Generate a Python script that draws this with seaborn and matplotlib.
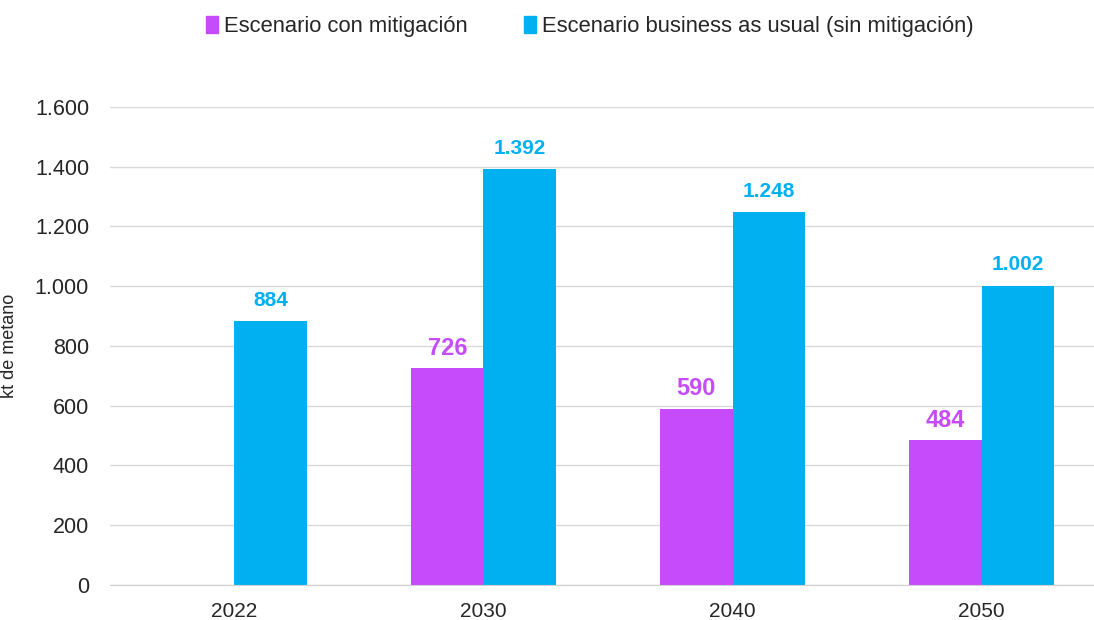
import numpy as np
import pandas as pd
import seaborn as sns
import matplotlib.pyplot as plt
from matplotlib.ticker import FuncFormatter

years = ["2022", "2030", "2040", "2050"]
mitigacion = [np.nan, 726, 590, 484]
bau = [884, 1392, 1248, 1002]
series = ["Escenario con mitigación", "Escenario business as usual (sin mitigación)"]
colors = ["#C64BFA", "#00B0F0"]

df = pd.DataFrame({
    "year": years * 2,
    "value": mitigacion + bau,
    "serie": [series[0]] * 4 + [series[1]] * 4,
})

sns.set_style("white")
plt.rcParams["font.family"] = ["Liberation Sans", "DejaVu Sans"]

def miles(v, pos=None):
    return f"{int(round(v)):,}".replace(",", ".")

fig = plt.figure(figsize=(10.94, 6.2), dpi=100)
# the plot area runs a little past the right edge, as in the cropped original
ax = fig.add_axes([0.1005, 0.0565, 0.9105, 0.771])
sns.barplot(data=df, x="year", y="value", hue="serie", order=years, hue_order=series,
            palette=colors, width=0.58, saturation=1, linewidth=0, ax=ax, legend=False)

ax.set_ylim(0, 1600)
ax.set_xlim(-0.5, 3.5)
ax.set_yticks(range(0, 1601, 200))
ax.yaxis.set_major_formatter(FuncFormatter(miles))
ax.grid(axis="y", color="#d9d9d9", linewidth=1)
ax.set_axisbelow(True)
for s in ["top", "right", "left"]:
    ax.spines[s].set_visible(False)
ax.spines["bottom"].set_color("#d0d0d0")
ax.set_xticks([-0.5, 0.5, 1.5, 2.5, 3.5], minor=True)
ax.set_xticks(range(4))
ax.set_xticklabels(years)
ax.tick_params(axis="x", which="major", length=0, labelsize=15, pad=12)
ax.tick_params(axis="x", which="minor", length=6, color="#d0d0d0", direction="out")
ax.tick_params(axis="y", length=0, labelsize=15.5, pad=15)
ax.set_xlabel("")
ax.set_ylabel("kt de metano", fontsize=13)
ax.yaxis.set_label_coords(-0.092, 0.5)

sizes = [17, 15]
pads = [6, 8]
for cont, col, fs, pd_ in zip(ax.containers, colors, sizes, pads):
    labels = ["" if np.isnan(b.get_height()) or b.get_height() == 0 else miles(b.get_height()) for b in cont]
    ax.bar_label(cont, labels=labels, padding=pd_, color=col, fontsize=fs, fontweight="bold")

handles = [plt.Rectangle((0, 0), 1, 1, color=c) for c in colors]
fig.legend(handles, series, loc="upper center", bbox_to_anchor=(0.539, 1.006), ncol=2,
           frameon=False, fontsize=15.8, handlelength=0.55, handleheight=0.8,
           handletextpad=0.25, columnspacing=2.6)

fig.savefig("out.png", dpi=100)
